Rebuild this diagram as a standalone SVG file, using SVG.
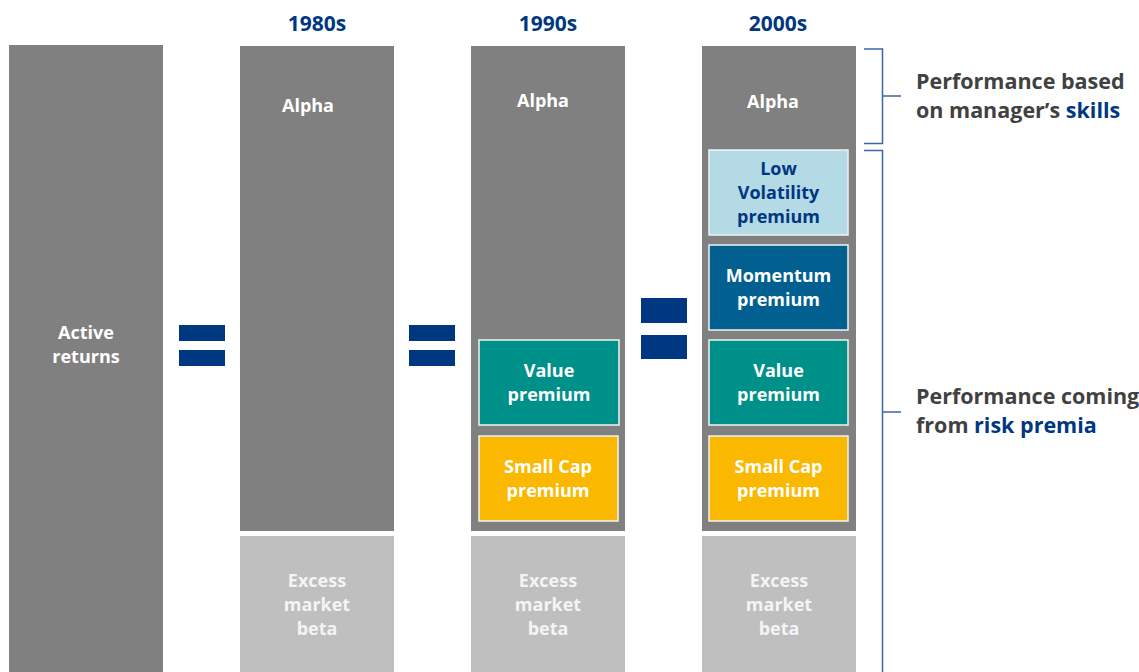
<svg xmlns="http://www.w3.org/2000/svg" width="1139" height="672" viewBox="0 0 1139 672">
  <style>
    text { font-family: "Open Sans", "Liberation Sans", sans-serif; font-weight: 700; text-anchor: middle; }
    .lbl { font-size: 18px; fill: #ffffff; }
    .beta { font-size: 18px; fill: #f4f4f4; }
    .dark-lbl { font-size: 18px; fill: #003781; }
    .hdr { font-size: 21px; fill: #003781; }
    .note { font-size: 21.5px; fill: #414141; text-anchor: start; }
    .hl { fill: #003781; }
    .col { fill: #808080; }
    .base { fill: #bfbfbf; }
    .box { stroke: #f2f2f2; stroke-width: 1.5; }
    .eq { fill: #003781; }
    .brace { fill: none; stroke: #3a66ad; stroke-width: 1.5; }
  </style>

  <!-- decade headers -->
  <g id="headers">
    <text class="hdr" x="317" y="31">1980s</text>
    <text class="hdr" x="548" y="31">1990s</text>
    <text class="hdr" x="778" y="31">2000s</text>
  </g>

  <!-- left column: total active returns -->
  <g id="active-returns">
    <rect class="col" x="9" y="45" width="154" height="627"/>
    <text class="lbl" x="86" y="339">Active</text>
    <text class="lbl" x="86" y="363">returns</text>
  </g>

  <!-- 1980s -->
  <g id="alpha-1980s">
    <rect class="col" x="240" y="46" width="154" height="485"/>
    <text class="lbl" x="308" y="112">Alpha</text>
  </g>
  <g id="beta-1980s">
    <rect class="base" x="240" y="536" width="154" height="136"/>
    <text class="beta" x="317" y="587">Excess</text>
    <text class="beta" x="317" y="611">market</text>
    <text class="beta" x="317" y="635">beta</text>
  </g>

  <!-- 1990s -->
  <g id="alpha-1990s">
    <rect class="col" x="471" y="46" width="154" height="485"/>
    <text class="lbl" x="543" y="107">Alpha</text>
  </g>
  <g id="value-1990s">
    <rect class="box" x="479" y="340" width="140" height="85" fill="#00908a"/>
    <text class="lbl" x="549" y="377">Value</text>
    <text class="lbl" x="549" y="401">premium</text>
  </g>
  <g id="smallcap-1990s">
    <rect class="box" x="479" y="436" width="139" height="85" fill="#fbb800"/>
    <text class="lbl" x="548" y="473">Small Cap</text>
    <text class="lbl" x="548" y="497">premium</text>
  </g>
  <g id="beta-1990s">
    <rect class="base" x="471" y="536" width="154" height="136"/>
    <text class="beta" x="548" y="587">Excess</text>
    <text class="beta" x="548" y="611">market</text>
    <text class="beta" x="548" y="635">beta</text>
  </g>

  <!-- 2000s -->
  <g id="alpha-2000s">
    <rect class="col" x="702" y="46" width="154" height="485"/>
    <text class="lbl" x="773" y="108">Alpha</text>
  </g>
  <g id="lowvol-2000s">
    <rect class="box" x="709" y="150" width="139" height="85" fill="#b4dae6"/>
    <text class="dark-lbl" x="778.5" y="175">Low</text>
    <text class="dark-lbl" x="778.5" y="199">Volatility</text>
    <text class="dark-lbl" x="778.5" y="223">premium</text>
  </g>
  <g id="momentum-2000s">
    <rect class="box" x="709" y="245" width="139" height="85" fill="#01608f"/>
    <text class="lbl" x="778.5" y="282">Momentum</text>
    <text class="lbl" x="778.5" y="306">premium</text>
  </g>
  <g id="value-2000s">
    <rect class="box" x="709" y="340" width="139" height="85" fill="#00908a"/>
    <text class="lbl" x="778.5" y="377">Value</text>
    <text class="lbl" x="778.5" y="401">premium</text>
  </g>
  <g id="smallcap-2000s">
    <rect class="box" x="709" y="436" width="139" height="85" fill="#fbb800"/>
    <text class="lbl" x="778.5" y="473">Small Cap</text>
    <text class="lbl" x="778.5" y="497">premium</text>
  </g>
  <g id="beta-2000s">
    <rect class="base" x="702" y="536" width="154" height="136"/>
    <text class="beta" x="779" y="587">Excess</text>
    <text class="beta" x="779" y="611">market</text>
    <text class="beta" x="779" y="635">beta</text>
  </g>

  <!-- equals signs between columns -->
  <g id="equals">
    <rect class="eq" x="179" y="325" width="46" height="16"/>
    <rect class="eq" x="179" y="350" width="46" height="16"/>
    <rect class="eq" x="409" y="325" width="46" height="16"/>
    <rect class="eq" x="409" y="350" width="46" height="16"/>
    <rect class="eq" x="641" y="298" width="46" height="25"/>
    <rect class="eq" x="641" y="335" width="46" height="24"/>
  </g>

  <!-- brackets grouping the 2000s column -->
  <g id="connectors">
    <path class="brace" d="M864,49 H882.5 V143.5 H864 M882.5,96 H901"/>
    <path class="brace" d="M864,150.5 H882.5 V672 M882.5,412 H901"/>
  </g>

  <!-- bracket captions -->
  <g id="caption-skills">
    <text class="note" x="916" y="89">Performance based</text>
    <text class="note" x="916" y="118">on manager’s <tspan class="hl">skills</tspan></text>
  </g>
  <g id="caption-premia">
    <text class="note" x="916" y="404">Performance coming</text>
    <text class="note" x="916" y="433">from <tspan class="hl">risk premia</tspan></text>
  </g>
</svg>
